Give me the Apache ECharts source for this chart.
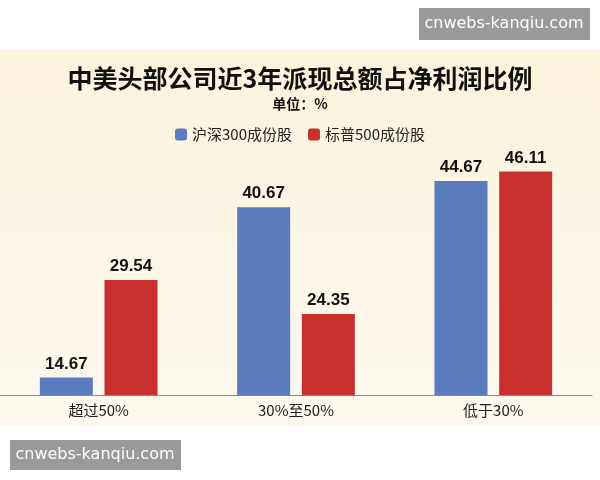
<!DOCTYPE html><html><head><meta charset="utf-8"><script src="https://cdn.jsdelivr.net/npm/echarts@6/dist/echarts.min.js"></script>
<style>body{margin:0}#c{width:600px;height:480px}</style></head><body><div id="c"></div><script>
const categories=['超过50%','30%至50%','低于30%'];
const hs300=[14.67,40.67,44.67];
const sp500=[29.54,24.35,46.11];
const seriesNames=['沪深300成份股','标普500成份股'];
const c=echarts.init(document.getElementById('c'));
c.setOption({
 backgroundColor:'#fff',
 graphic:[
  {type:'rect',z:-10,shape:{x:0,y:50,width:600,height:376},style:{fill:new echarts.graphic.LinearGradient(0,0,0,1,[{offset:0,color:'#fbf3dc'},{offset:1,color:'#fdf9ef'}])}},
  {type:'rect',shape:{x:419,y:8,width:171,height:32},style:{fill:'#9a9a9a'}},
  {type:'text',style:{x:504,y:24,text:'cnwebs-kanqiu.com',fill:'#fff',font:'16px "DejaVu Sans"',align:'center',verticalAlign:'middle'}},
  {type:'rect',shape:{x:10,y:440,width:171,height:30},style:{fill:'#9a9a9a'}},
  {type:'text',style:{x:95,y:455,text:'cnwebs-kanqiu.com',fill:'#fff',font:'16px "DejaVu Sans"',align:'center',verticalAlign:'middle'}},
  {type:'text',style:{x:300,y:78,text:'中美头部公司近3年派现总额占净利润比例',fill:'#111',font:'bold 25px "Noto Sans CJK SC"',align:'center',verticalAlign:'middle'}},
  {type:'text',style:{x:300,y:104,text:'单位：%',fill:'#111',font:'bold 14px "Noto Sans CJK SC"',align:'center',verticalAlign:'middle'}}
 ],
 legend:{top:122,left:'center',itemWidth:12,itemHeight:12,itemGap:16,textStyle:{fontSize:15,color:'#222',fontFamily:'Noto Sans CJK SC'},data:seriesNames},
 grid:{left:0,right:8,top:146,bottom:85},
 xAxis:{type:'category',data:categories,axisTick:{show:false},axisLine:{lineStyle:{color:'#888'}},axisLabel:{fontSize:15,color:'#222',margin:8,fontFamily:'Noto Sans CJK SC'}},
 yAxis:{type:'value',min:12,max:50,show:false,splitLine:{show:false}},
 series:[
  {name:seriesNames[0],type:'bar',data:hs300,barWidth:53,barGap:'22%',itemStyle:{color:'#5b7bbf'},label:{show:true,position:'top',fontSize:17,fontWeight:'bold',color:'#111'}},
  {name:seriesNames[1],type:'bar',data:sp500,barWidth:53,itemStyle:{color:'#c8302e'},label:{show:true,position:'top',fontSize:17,fontWeight:'bold',color:'#111'}}
 ]
});
</script></body></html>
